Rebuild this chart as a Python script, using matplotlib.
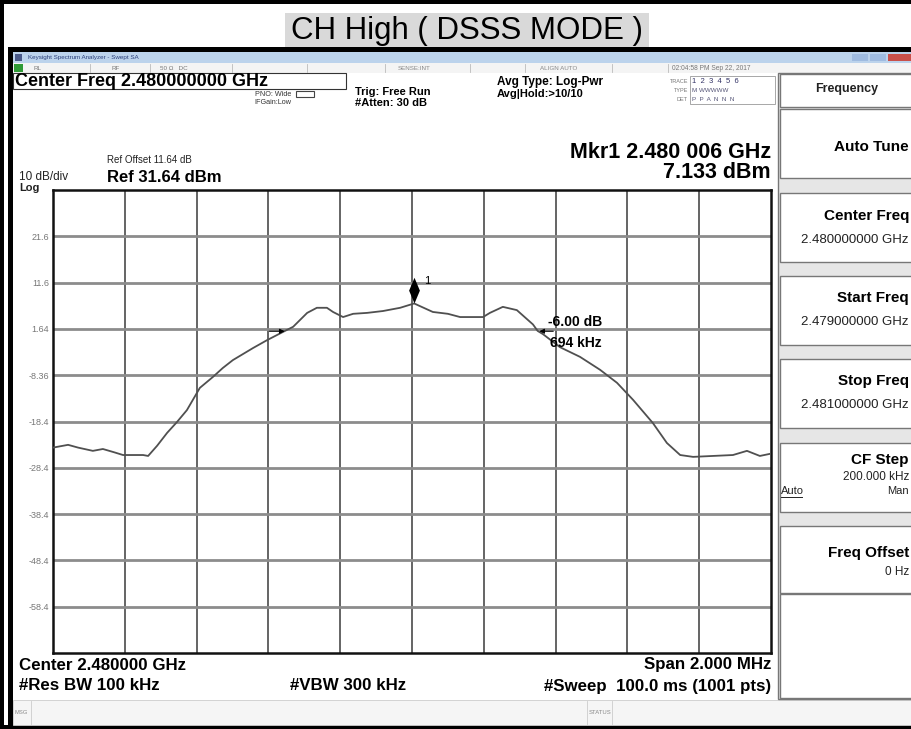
import matplotlib
matplotlib.use('Agg')
import matplotlib.pyplot as plt
from matplotlib.patches import Rectangle
from matplotlib.path import Path

plt.rcParams['font.family'] = ['Liberation Sans', 'DejaVu Sans']

# trace: offset from centre (MHz) / level (dBm)
freq_offset = [-1.000, -0.958, -0.930, -0.889, -0.861, -0.830, -0.805, -0.749, -0.735, -0.710,
               -0.682, -0.655, -0.627, -0.591, -0.554, -0.527, -0.499, -0.443, -0.404, -0.359,
               -0.331, -0.292, -0.265, -0.237, -0.220, -0.192, -0.164, -0.125, -0.081, -0.033,
               0.006, 0.058, 0.100, 0.134, 0.198, 0.217, 0.253, 0.292, 0.337, 0.350,
               0.365, 0.412, 0.468, 0.524, 0.571, 0.616, 0.671, 0.710, 0.747, 0.783,
               0.838, 0.894, 0.933, 0.969, 1.000]
level = [-24.0, -23.4, -24.0, -24.7, -24.3, -25.0, -25.6, -25.6, -25.8, -23.6,
         -20.8, -18.5, -15.9, -11.1, -8.7, -6.8, -5.1, -2.5, -0.8, 1.0,
         2.1, 5.1, 6.2, 6.2, 5.3, 4.2, 4.9, 5.1, 5.5, 6.2,
         7.133, 5.3, 4.9, 4.2, 4.2, 5.1, 6.4, 5.7, 2.6, 1.2,
         0.5, -2.3, -4.4, -7.2, -10.0, -13.7, -18.7, -23.0, -25.6, -26.0,
         -25.8, -25.6, -24.7, -25.8, -25.3]

ref_level = 31.64
db_per_div = 10
span_mhz = 2.0
ytick_labels = ['21.6', '11.6', '1.64', '-8.36', '-18.4', '-28.4', '-38.4', '-48.4', '-58.4']

mkr_offset = 0.006
mkr_level = 7.133
ndb_left = -0.347
ndb_right = 0.347
ndb_level = mkr_level - 6.0

W, H = 912, 729
fig = plt.figure(figsize=(W / 100, H / 100), dpi=100)
fig.patch.set_facecolor('white')

# screen furniture in pixel coords
ui = fig.add_axes([0, 0, 1, 1], zorder=0)
ui.set_xlim(0, W)
ui.set_ylim(H, 0)
ui.axis('off')


def box(x0, y0, x1, y1, fc='none', ec='none', lw=1.0):
    ui.add_patch(Rectangle((x0, y0), x1 - x0, y1 - y0, facecolor=fc, edgecolor=ec, lw=lw))


def txt(x, y, s, size=8, ha='left', bold=False, color='black', **kw):
    ui.text(x, y, s, fontsize=size, ha=ha, va='center', color=color,
            fontweight='bold' if bold else 'normal', **kw)


# outer frame
box(0, 0, W, 4, fc='black')
box(0, 0, 4, H, fc='black')
box(8, 47, 13, H, fc='black')
box(8, 47, W, 52, fc='black')
box(0, 725, W, H, fc='black')

# page title
box(285, 13, 649, 47, fc='#d9d9d9')
txt(467, 31, 'CH High ( DSSS MODE )', size=22.5, ha='center')

# window title bar
box(13, 52, W, 63, fc='#bcd3ec')
box(15, 54, 22, 61, fc='#4a5a8a')
txt(28, 57.5, 'Keysight Spectrum Analyzer - Swept SA', size=4.5, color='#2a3f7a')
box(852, 54, 868, 61, fc='#9fbbe0')
box(870, 54, 886, 61, fc='#9fbbe0')
box(888, 54, W, 61, fc='#c9504a')

# status row
box(13, 63, W, 73, fc='#f4f4f4')
box(14, 64, 23, 72, fc='#2f9a36')
for sx in [90, 150, 232, 307, 385, 470, 525, 612, 668]:
    ui.plot([sx, sx], [64, 72], color='#bbbbbb', lw=0.6)
txt(34, 68, 'RL', size=4.5, color='#777777')
txt(112, 68, 'RF', size=4.5, color='#777777')
txt(160, 68, '50 \u03a9   DC', size=4.5, color='#777777')
txt(398, 68, 'SENSE:INT', size=4.5, color='#888888')
txt(540, 68, 'ALIGN AUTO', size=4.5, color='#888888')
txt(672, 68, '02:04:58 PM Sep 22, 2017', size=4.8, color='#777777')

# header
box(13, 73, 346, 89, ec='#333333', lw=0.8)
txt(15, 81, 'Center Freq 2.480000000 GHz', size=13, bold=True)
txt(255, 94, 'PNO: Wide', size=5.2, color='#333333')
txt(254, 102, 'IFGain:Low', size=5.2, color='#333333')
box(296, 91, 314, 97, ec='#444444', lw=0.8)
txt(355, 92, 'Trig: Free Run', size=8, bold=True)
txt(355, 103, '#Atten: 30 dB', size=8, bold=True)
txt(497, 82, 'Avg Type: Log-Pwr', size=8.5, bold=True)
txt(497, 94, 'Avg|Hold:>10/10', size=8, bold=True)
txt(688, 81, 'TRACE', size=4, ha='right', color='#777777')
txt(688, 90, 'TYPE', size=4, ha='right', color='#777777')
txt(688, 99, 'DET', size=4, ha='right', color='#777777')
box(690, 76, 775, 104, ec='#999999', lw=0.6)
txt(692, 81, '1  2  3  4  5  6', size=5.5, color='#333366')
txt(692, 90, 'M WWWWW', size=4.5, color='#555577')
txt(692, 99, 'P  P  A  N  N  N', size=4.5, color='#555577')

txt(771, 152, 'Mkr1 2.480 006 GHz', size=15.5, ha='right', bold=True)
txt(771, 172, '7.133 dBm', size=15.5, ha='right', bold=True)
txt(107, 160, 'Ref Offset 11.64 dB', size=7, color='#222222')
txt(107, 177, 'Ref 31.64 dBm', size=12, bold=True)
txt(19, 177, '10 dB/div', size=8.5, color='#222222')
txt(19, 188, 'Log', size=8, color='#222222', bold=True)

# footer
txt(19, 665, 'Center 2.480000 GHz', size=12.2, bold=True)
txt(771, 665, 'Span 2.000 MHz', size=12.2, ha='right', bold=True)
txt(19, 686, '#Res BW 100 kHz', size=12.2, bold=True)
txt(290, 686, '#VBW 300 kHz', size=12.2, bold=True)
txt(771, 686, '#Sweep  100.0 ms (1001 pts)', size=12.2, ha='right', bold=True)
box(13, 700, W, 725, fc='#f5f5f5', ec='#cccccc', lw=0.6)
ui.plot([31, 31], [701, 724], color='#cccccc', lw=0.6)
ui.plot([587, 587], [701, 724], color='#cccccc', lw=0.6)
ui.plot([612, 612], [701, 724], color='#cccccc', lw=0.6)
txt(15, 712, 'MSG', size=4.2, color='#888888')
txt(589, 712, 'STATUS', size=4.2, color='#888888')

# soft key panel
box(778, 73, W, 699, fc='#e6e6e6', ec='#777777', lw=1.0)
keys = [(73, 107), (108, 178), (192, 262), (275, 345), (358, 428), (442, 512), (525, 593), (593, 698)]
for k0, k1 in keys:
    box(780, k0 + 1, W, k1, fc='white', ec='#777777', lw=1.0)
txt(847, 89, 'Frequency', size=9, ha='center', bold=True, color='#222222')
txt(909, 147, 'Auto Tune', size=11, ha='right', bold=True)
txt(909, 216, 'Center Freq', size=11, ha='right', bold=True)
txt(909, 240, '2.480000000 GHz', size=9.5, ha='right', color='#222222')
txt(909, 298, 'Start Freq', size=11, ha='right', bold=True)
txt(909, 322, '2.479000000 GHz', size=9.5, ha='right', color='#222222')
txt(909, 381, 'Stop Freq', size=11, ha='right', bold=True)
txt(909, 405, '2.481000000 GHz', size=9.5, ha='right', color='#222222')
txt(909, 460, 'CF Step', size=11, ha='right', bold=True)
txt(909, 477, '200.000 kHz', size=8.5, ha='right', color='#222222')
txt(781, 491, 'Auto', size=8, color='#222222')
ui.plot([781, 802], [497, 497], color='#222222', lw=0.7)
txt(909, 491, 'Man', size=8, ha='right', color='#222222')
txt(909, 553, 'Freq Offset', size=11, ha='right', bold=True)
txt(909, 572, '0 Hz', size=8.5, ha='right', color='#222222')

# graticule + trace
ax = fig.add_axes([53 / W, 1 - 653 / H, 718 / W, 463 / H], zorder=2)
ax.set_facecolor('white')
ax.set_xlim(-span_mhz / 2, span_mhz / 2)
bottom = ref_level - 10 * db_per_div
ax.set_ylim(bottom, ref_level)
ax.set_xticks([-span_mhz / 2 + i * span_mhz / 10 for i in range(1, 10)])
ax.set_xticklabels([])
ax.set_yticks([ref_level - (i + 1) * db_per_div for i in range(len(ytick_labels))])
ax.set_yticklabels(ytick_labels)
ax.tick_params(length=0, pad=3, labelsize=6.5, labelcolor='#777777')
ax.grid(axis='x', color='#3a3a3a', lw=1.1)
ax.grid(axis='y', color='#8c8c8c', lw=2.0)
for sp in ax.spines.values():
    sp.set_color('#111111')
    sp.set_linewidth(1.8)

ax.plot(freq_offset, level, color='#505050', lw=1.3, zorder=3)

diamond = Path([(0, 0), (0.42, 1), (0, 2), (-0.42, 1), (0, 0)],
               [Path.MOVETO, Path.LINETO, Path.LINETO, Path.LINETO, Path.CLOSEPOLY])
ax.plot([mkr_offset], [mkr_level], marker=diamond, ms=37, color='black', mew=0, zorder=4)
ax.annotate('1', xy=(mkr_offset, mkr_level), xytext=(7, 16), textcoords='offset points',
            fontsize=8, va='center', ha='left')

ax.annotate('', xy=(ndb_left, ndb_level), xytext=(-15, 0), textcoords='offset points',
            arrowprops=dict(arrowstyle='-|>', color='black', lw=0.8, mutation_scale=7), zorder=4)
ax.annotate('', xy=(ndb_right, ndb_level), xytext=(14, 0), textcoords='offset points',
            arrowprops=dict(arrowstyle='-|>', color='black', lw=0.8, mutation_scale=7), zorder=4)
ax.annotate('-6.00 dB', xy=(ndb_right, ndb_level), xytext=(8, 6.5), textcoords='offset points',
            fontsize=10, fontweight='bold', va='center', ha='left')
ax.annotate('694 kHz', xy=(ndb_right, ndb_level), xytext=(10, -8.5), textcoords='offset points',
            fontsize=10, fontweight='bold', va='center', ha='left')

fig.savefig('out.png', dpi=100)
